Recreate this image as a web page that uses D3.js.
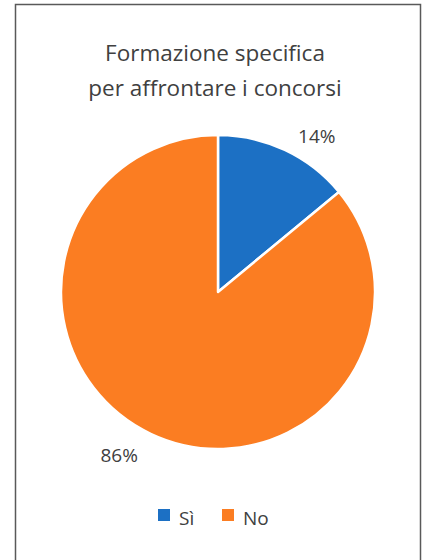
<!DOCTYPE html>
<html>
    <head>
        <meta charset="utf-8">
        <script src="https://cdnjs.cloudflare.com/ajax/libs/d3/7.8.5/d3.min.js"></script>
        <style>
            body{
                margin: 0;
                background: #fff;
            }
            svg text{
                font-family: "Open Sans", "Noto Sans", sans-serif;
                fill: #404040;
            }
        </style>
    </head>
    <body>
        <svg id="chart" width="424" height="560"></svg>
    </body>
    <script>
        const titleLines = ["Formazione specifica", "per affrontare i concorsi"]
        const categories = ["Sì", "No"]
        const values = [14, 86]
        const colors = ["#1C70C4", "#FB7D22"]

        const svg = d3.select("#chart")
        const cx = 218, cy = 292, radius = 157

        // chart frame
        svg.append("rect")
            .attr("x", 15.5)
            .attr("y", 4.5)
            .attr("width", 405)
            .attr("height", 562)
            .attr("fill", "none")
            .attr("stroke", "#595959")
            .attr("stroke-width", 1.5)

        svg.selectAll(".title")
            .data(titleLines)
            .enter()
            .append("text")
            .attr("class", "title")
            .attr("x", 215)
            .attr("y", (d, i) => 61 + i * 35)
            .attr("text-anchor", "middle")
            .style("font-size", "22.5px")
            .text(d => d)

        const pie = d3.pie().sort(null).value(d => d)
        const arcs = pie(values)

        const arc = d3.arc().innerRadius(0).outerRadius(radius)

        const g = svg.append("g").attr("transform", `translate(${cx},${cy})`)

        g.selectAll("path")
            .data(arcs)
            .enter()
            .append("path")
            .attr("d", arc)
            .attr("fill", (d, i) => colors[i])
            .attr("stroke", "#fff")
            .attr("stroke-width", 2.5)
            .attr("stroke-linejoin", "round")

        // outside-end labels
        const labelR = 188, nudge = 6.5 * Math.PI / 180
        g.selectAll(".lbl")
            .data(arcs)
            .enter()
            .append("text")
            .attr("class", "lbl")
            .attr("x", d => labelR * Math.sin((d.startAngle + d.endAngle) / 2 + nudge))
            .attr("y", d => -labelR * Math.cos((d.startAngle + d.endAngle) / 2 + nudge))
            .attr("dy", "0.55em")
            .attr("text-anchor", "middle")
            .style("font-size", "19px")
            .text(d => d.value + "%")

        // legend
        const legendX = d3.scalePoint().domain(categories).range([158, 222])
        const legend = svg.selectAll(".leg")
            .data(categories)
            .enter()
            .append("g")
            .attr("transform", d => `translate(${legendX(d)},509)`)
        legend.append("rect")
            .attr("width", 12)
            .attr("height", 12)
            .attr("fill", (d, i) => colors[i])
        legend.append("text")
            .attr("x", 21)
            .attr("y", 15.5)
            .style("font-size", "19px")
            .text(d => d)
    </script>
</html>
